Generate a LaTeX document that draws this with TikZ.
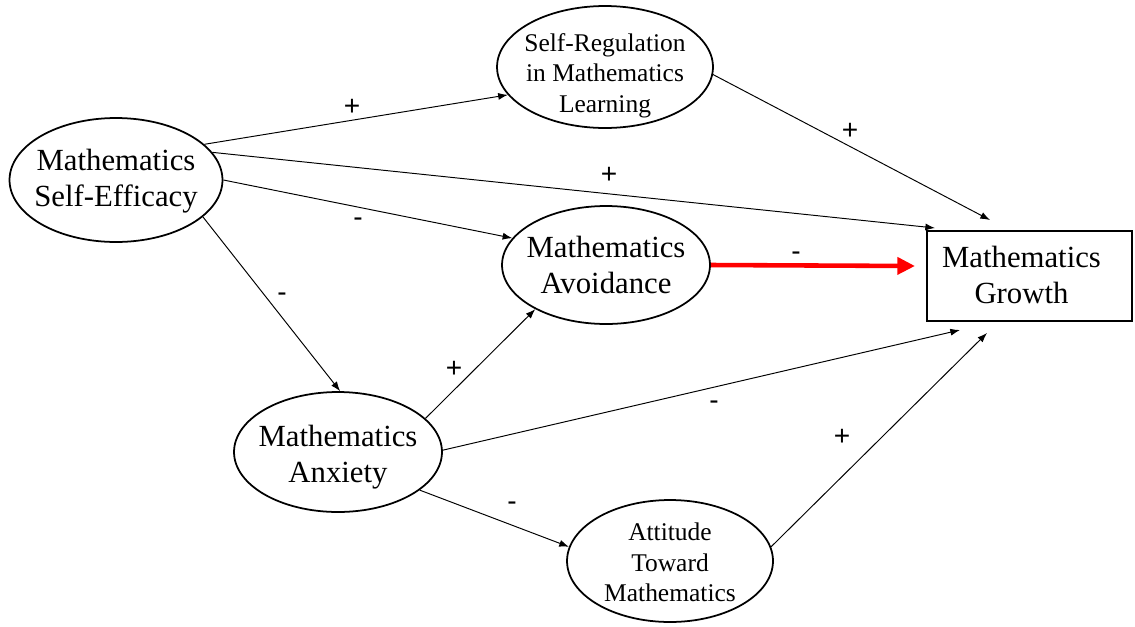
\documentclass[tikz,border=0pt]{standalone}
\usepackage{fontspec}
\setmainfont{Liberation Serif}
\newfontfamily\labfont{Liberation Sans}
\usetikzlibrary{shapes.geometric,arrows.meta}
\begin{document}
\begin{tikzpicture}[x=0.02cm,y=-0.02cm,
  el/.style={draw,ellipse,line width=1pt,inner sep=0pt},
  big/.style={font=\fontsize{17.5}{20.5}\selectfont,align=center},
  small/.style={font=\fontsize{14.5}{17.4}\selectfont,align=center},
  conn/.style={line width=0.55pt,-{Latex[length=5.5pt,width=4pt]}},
  redconn/.style={draw=red,line width=2.6pt,-{Triangle[length=10pt,width=9.5pt]}},
  sign/.style={font=\labfont\fontsize{16}{18}\selectfont,inner sep=0pt},
]
\useasboundingbox (0,0) rectangle (1135,626);

\node[el,minimum width=4.26cm,minimum height=2.48cm,label={[big,yshift=-0.03cm]center:Mathematics\\Self-Efficacy}] (se) at (116,180) {};
\node[el,minimum width=4.32cm,minimum height=2.44cm,label={[small,yshift=-0.17cm]center:Self-Regulation\\in Mathematics\\Learning}] (sr) at (605,67) {};
\node[el,minimum width=4.16cm,minimum height=2.36cm,label={[big]center:Mathematics\\Avoidance}] (av) at (606,265) {};
\node[el,minimum width=4.16cm,minimum height=2.40cm,label={[big,yshift=-0.1cm]center:Mathematics\\Anxiety}] (ax) at (338,452) {};
\node[el,minimum width=4.12cm,minimum height=2.44cm,label={[small,yshift=-0.03cm]center:Attitude\\Toward\\Mathematics}] (at) at (670,561) {};
\node[draw,line width=1.1pt,minimum width=4.10cm,minimum height=1.80cm,inner sep=0pt,
      label={[big,xshift=-0.16cm,yshift=0.02cm]center:Mathematics\\Growth}] (g) at (1029.5,276) {};

\coordinate (g1) at (935,228);
\coordinate (g2) at (990,220);
\coordinate (g3) at (915,266);
\coordinate (g4) at (960,330);
\coordinate (g5) at (987,333);

\draw[conn] (se.22.4) -- (sr.196.7);
\draw[conn] (se.16.5) -- (g1);
\draw[conn] (se.0) -- (av.164.3);
\draw[conn] (se.-23.3) -- (ax.88);
\draw[conn] (sr.-4.2) -- (g2);
\draw[redconn] (av.0) -- (g3);
\draw[conn] (ax.21.3) -- (av.212.2);
\draw[conn] (ax.1.7) -- (g4);
\draw[conn] (ax.-25) -- (at.172);
\draw[conn] (at.8.2) -- (g5);

\node[sign] (s1) at (352,107) {+};
\node[sign] (s2) at (609,175) {+};
\node[sign] (s3) at (358,222) {-};
\node[sign] (s4) at (282,297) {-};
\node[sign] (s5) at (850,131) {+};
\node[sign] (s6) at (796,256) {-};
\node[sign] (s7) at (454,369) {+};
\node[sign] (s8) at (714,405) {-};
\node[sign] (s9) at (512,506) {-};
\node[sign] (s10) at (842,437) {+};
\end{tikzpicture}
\end{document}
